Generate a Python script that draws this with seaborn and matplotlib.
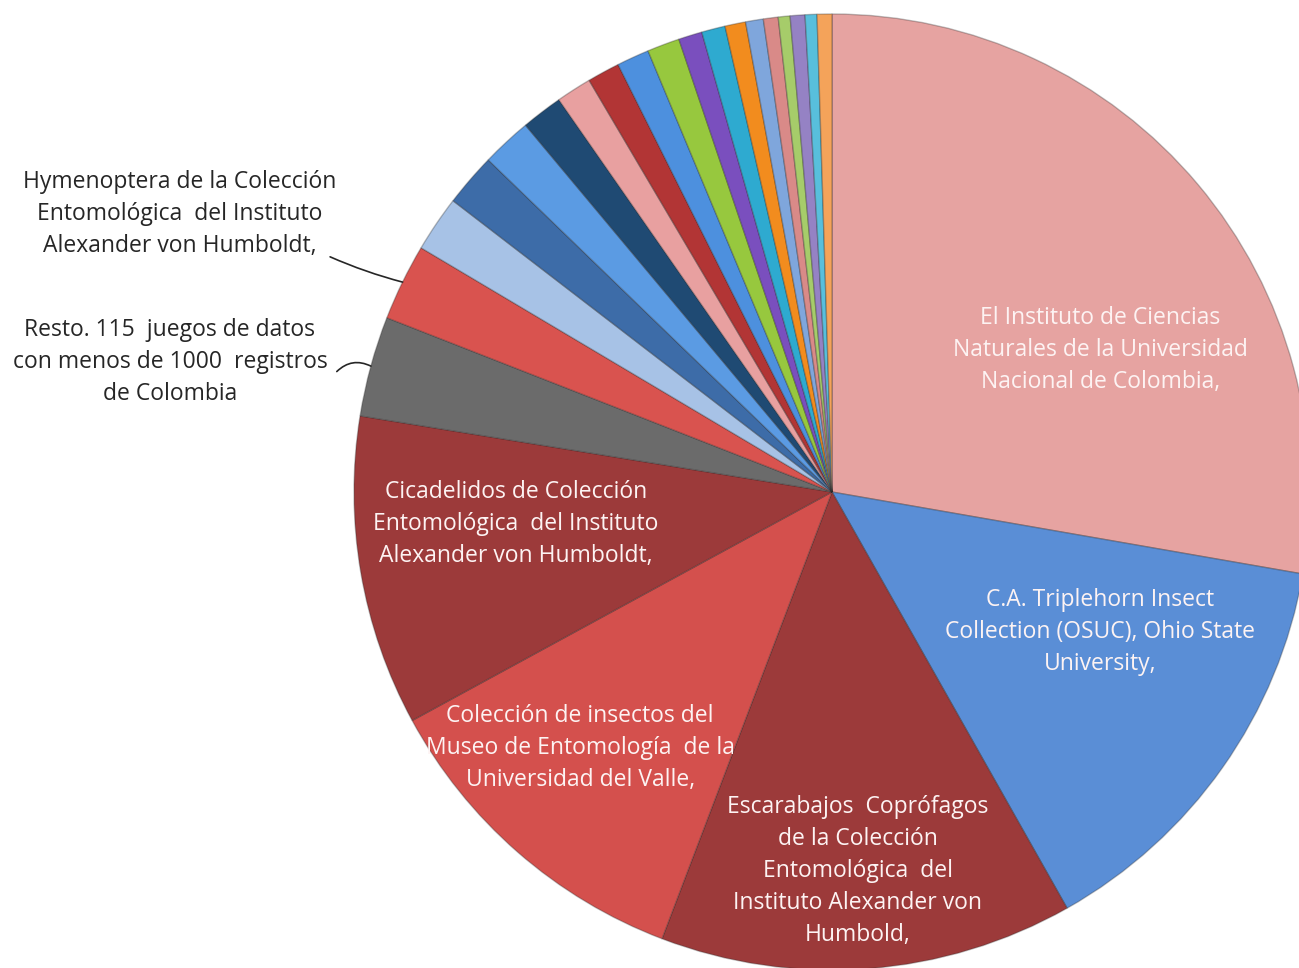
import numpy as np
import matplotlib
matplotlib.use("Agg")
import matplotlib.pyplot as plt
import seaborn as sns

# Porcentaje de registros por juego de datos (sentido horario desde las 12)
etiquetas = [
    "El Instituto de Ciencias\nNaturales de la Universidad\nNacional de Colombia,",
    "C.A. Triplehorn Insect\nCollection (OSUC), Ohio State\nUniversity,",
    "Escarabajos  Coprófagos\nde la Colección\nEntomológica  del\nInstituto Alexander von\nHumbold,",
    "Colección de insectos del\nMuseo de Entomología  de la\nUniversidad del Valle,",
    "Cicadelidos de Colección\nEntomológica  del Instituto\nAlexander von Humboldt,",
    "Resto. 115  juegos de datos\ncon menos de 1000  registros\nde Colombia",
    "Hymenoptera de la Colección\nEntomológica  del Instituto\nAlexander von Humboldt,",
] + [""] * 17

valores = [27.8, 14.1, 14.0, 11.3, 10.5, 3.4, 2.6, 1.9, 1.8, 1.7, 1.4, 1.2,
           1.1, 1.1, 1.1, 0.8, 0.8, 0.7, 0.6, 0.5, 0.4, 0.5, 0.4, 0.5]

colores = ["#E6A3A1", "#5A8ED6", "#9C3A3A", "#D4504D", "#9C3A3A", "#6B6B6B",
           "#D9534F", "#A7C2E6", "#3D6CA8", "#5B9BE3", "#1F4A73", "#E8A0A0",
           "#B23535", "#4D90DE", "#97C83E", "#7A4FBE", "#2EAAD0", "#F28C1E",
           "#7FA6DC", "#D98A88", "#A6CC6A", "#9582C4", "#58BFDC", "#F4A35A"]

# posiciones de los textos dentro de las porciones (coordenadas del eje, radio = 1)
pos_dentro = {0: (0.561, 0.297), 1: (0.561, -0.293), 2: (0.054, -0.793),
              3: (-0.527, -0.536), 4: (-0.661, -0.067)}
# textos fuera del pastel con línea guía: (centro del texto, inicio de la línea, curvatura)
pos_fuera = {6: ((-1.364, 0.582), (-1.05, 0.492), 0.04),
             5: ((-1.385, 0.272), (-1.036, 0.252), -0.35)}

sns.set_theme(style="white")
plt.rcParams["font.family"] = ["Open Sans", "DejaVu Sans"]

fig = plt.figure(figsize=(12.99, 9.68), dpi=100)
ax = fig.add_axes([0, 0, 1, 1])

paleta = sns.color_palette(colores)
wedges, _ = ax.pie(valores, colors=paleta, startangle=90, counterclock=False,
                   radius=1.0,
                   wedgeprops=dict(edgecolor=(0.15, 0.15, 0.15, 0.3), linewidth=1.0))

for i, (x, y) in pos_dentro.items():
    ax.text(x, y, etiquetas[i], ha="center", va="center", fontsize=16.5,
            color="#fdf3f3", linespacing=1.45)

for i, ((tx, ty), (lx, ly), rad) in pos_fuera.items():
    w = wedges[i]
    mid = np.deg2rad((w.theta1 + w.theta2) / 2)
    ax.text(tx, ty, etiquetas[i], ha="center", va="center", fontsize=16.5,
            color="#262626", linespacing=1.45)
    ax.annotate("", xy=(np.cos(mid), np.sin(mid)), xytext=(lx, ly),
                arrowprops=dict(arrowstyle="-", color="#262626", lw=1.2,
                                connectionstyle=f"arc3,rad={rad}",
                                shrinkA=0, shrinkB=0))

ax.set_aspect("auto")
ax.set_xlim(-832 / 478, (1299 - 832) / 478)
ax.set_ylim(-(968 - 492) / 478, 492 / 478)
ax.axis("off")

fig.savefig("out.png", dpi=100, facecolor="white")
